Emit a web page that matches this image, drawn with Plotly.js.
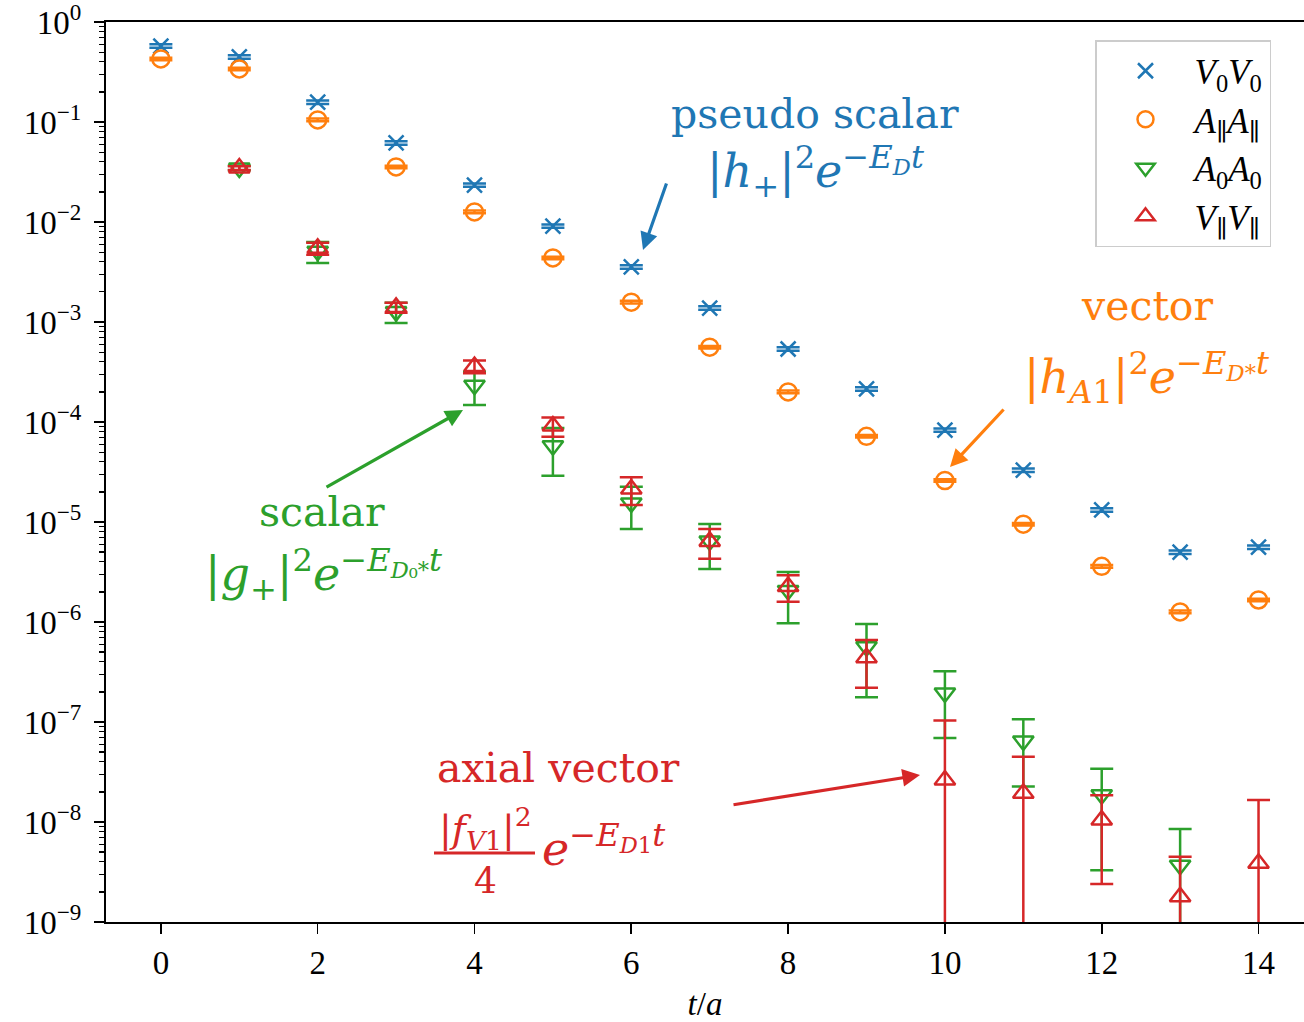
<!DOCTYPE html>
<html>
<head>
<meta charset="utf-8">
<script src="https://cdn.plot.ly/plotly-3.0.1.min.js"></script>
<style>html,body{margin:0;padding:0;background:#fff;}#chart{width:1304px;height:1022px;}</style>
</head>
<body>
<div id="chart"></div>
<script>
// ---- data ----
const tAll = [0,1,2,3,4,5,6,7,8,9,10,11,12,13,14];
const V0V0 = [0.575,0.447,0.158,0.0617,0.0234,0.0091,0.00355,0.00138,0.000537,0.000214,8.3e-5,3.3e-5,1.32e-5,5.0e-6,5.6e-6];
const V0V0_err = [0.023,0.018,0.0063,0.0025,0.0009,0.00036,0.00014,5.5e-5,2.1e-5,8.6e-6,3.3e-6,1.3e-6,5.3e-7,2.0e-7,2.2e-7];
const AparApar = [0.427,0.339,0.105,0.0355,0.0126,0.00437,0.00158,5.6e-4,2.0e-4,7.2e-5,2.6e-5,9.5e-6,3.6e-6,1.26e-6,1.66e-6];
const AparApar_err = [0.013,0.010,0.0032,0.0011,0.0004,0.00013,5e-5,1.7e-5,6e-6,2.2e-6,8e-7,3e-7,1.1e-7,4e-8,5e-8];
const tA0 = [1,2,3,4,5,6,7,8,9,10,11,12,13];
const A0A0 = [0.0347,5.1e-3,1.27e-3,2.33e-4,5.8e-5,1.55e-5,6.47e-6,2.07e-6,5.67e-7,1.95e-7,6.46e-8,1.87e-8,3.7e-9];
const A0A0_err = [0.0018,1.2e-3,2.9e-4,8.5e-5,2.9e-5,7e-6,3.08e-6,1.1e-6,3.9e-7,1.26e-7,4.2e-8,1.54e-8,4.8e-9];
const tVp = [1,2,3,4,5,6,7,8,9,10,11,12,13,14];
const VparVpar = [0.0347,5.45e-3,1.40e-3,3.59e-4,9.1e-5,2.14e-5,6.4e-6,2.26e-6,4.4e-7,2.63e-8,1.94e-8,1.045e-8,1.79e-9,3.86e-9];
const VparVpar_err = [0.0015,7.5e-4,1.6e-4,5.2e-5,2.0e-5,6.6e-6,2.1e-6,6.7e-7,2.2e-7,7.7e-8,2.56e-8,8.05e-9,2.7e-9,1.27e-8];
const xTicks = [0,2,4,6,8,10,12,14];
const yTickVals = [1e-9,1e-8,1e-7,1e-6,1e-5,1e-4,1e-3,1e-2,1e-1,1];
const yTickText = ['10<sup>−9</sup>','10<sup>−8</sup>','10<sup>−7</sup>','10<sup>−6</sup>','10<sup>−5</sup>','10<sup>−4</sup>','10<sup>−3</sup>','10<sup>−2</sup>','10<sup>−1</sup>','10<sup>0</sup>'];

const C = {blue:'#1f77b4', orange:'#ff7f0e', green:'#2ca02c', red:'#d62728'};
const SERIF = 'Liberation Serif, DejaVu Serif, serif';
const ANN = 'DejaVu Serif, serif';

function tr(x, y, err, name, color, symbol, size) {
  return {
    type:'scatter', mode:'markers', x:x, y:y, name:name,
    marker:{symbol:symbol, size:size, color:color, line:{color:color, width:2.5}},
    error_y:{type:'data', array:err, visible:true, color:color, thickness:2.5, width:11.5},
    hoverinfo:'x+y'
  };
}
const data = [
  tr(tAll, V0V0, V0V0_err, '<i>V</i><sub>0</sub><i>V</i><sub>0</sub>', C.blue, 'x-thin-open', 15),
  tr(tAll, AparApar, AparApar_err, '<i>A</i><sub>∥</sub><i>A</i><sub>∥</sub>', C.orange, 'circle-open', 17),
  tr(tA0, A0A0, A0A0_err, '<i>A</i><sub>0</sub><i>A</i><sub>0</sub>', C.green, 'triangle-down-open', 18),
  tr(tVp, VparVpar, VparVpar_err, '<i>V</i><sub>∥</sub><i>V</i><sub>∥</sub>', C.red, 'triangle-up-open', 18)
];

// layout helpers: pixel position -> paper fraction
const L=106, R=1304, T=22, B=922;
const px = v => (v-L)/(R-L);
const py = v => (B-v)/(B-T);
function txt(x, y, text, color, size, xanchor) {
  return {xref:'paper', yref:'paper', x:px(x), y:py(y), text:text, showarrow:false,
    xanchor:xanchor||'center', yanchor:'middle', font:{family:ANN, size:size, color:color}};
}
function arrow(hx, hy, tx, ty, color) {
  return {xref:'paper', yref:'paper', x:px(hx), y:py(hy), ax:tx-hx, ay:ty-hy, text:'',
    showarrow:true, arrowhead:2, arrowsize:1.1, arrowwidth:3.2, arrowcolor:color};
}

const annotations = [
  txt(815, 114, 'pseudo scalar', C.blue, 41),
  txt(815, 171, '|<i>h</i><sub>+</sub>|<sup>2</sup><i>e</i><sup>−<i>E</i><sub><i>D</i></sub><i>t</i></sup>', C.blue, 46),
  arrow(643, 250, 667, 182, C.blue),
  txt(1147, 306, 'vector', C.orange, 41),
  txt(1146, 377, '|<i>h</i><sub><i>A</i>1</sub>|<sup>2</sup><i>e</i><sup>−<i>E</i><sub><i>D</i>*</sub><i>t</i></sup>', C.orange, 46),
  arrow(950, 467, 1005, 408, C.orange),
  txt(322, 512, 'scalar', C.green, 41),
  txt(323, 574, '|<i>g</i><sub>+</sub>|<sup>2</sup><i>e</i><sup>−<i>E</i><sub><i>D</i>₀*</sub><i>t</i></sup>', C.green, 46),
  arrow(463, 410, 325, 488, C.green),
  txt(558, 768, 'axial vector', C.red, 41),
  txt(485, 828, '|<i>f</i><sub><i>V</i>1</sub>|<sup>2</sup>', C.red, 38),
  txt(485, 880, '4', C.red, 36),
  txt(540, 846, '<i>e</i><sup>−<i>E</i><sub><i>D</i>1</sub><i>t</i></sup>', C.red, 46, 'left'),
  arrow(920, 775, 732, 805, C.red)
];

const layout = {
  width:1304, height:1022,
  margin:{l:L, r:1304-R, t:T, b:1022-B, pad:0},
  paper_bgcolor:'#fff', plot_bgcolor:'#fff',
  showlegend:true,
  legend:{x:px(1095), y:py(40), xanchor:'left', yanchor:'top',
    bgcolor:'#fff', bordercolor:'#cccccc', borderwidth:1.5,
    font:{family:SERIF, size:35, color:'#000'}, itemwidth:88, tracegroupgap:0},
  xaxis:{range:[-0.7, 14.58], showgrid:false, zeroline:false,
    showline:true, linecolor:'#000', linewidth:2, mirror:true,
    ticks:'outside', ticklen:10, tickwidth:1.6, tickcolor:'#000',
    tickmode:'array', tickvals:xTicks, ticklabeloverflow:'allow',
    tickfont:{family:SERIF, size:33, color:'#000'},
    title:{text:'<i>t</i>/<i>a</i>', font:{family:SERIF, size:33, color:'#000'}, standoff:12}},
  yaxis:{type:'log', range:[-9, 0], showgrid:false, zeroline:false,
    showline:true, linecolor:'#000', linewidth:2,
    ticks:'outside', ticklen:10, tickwidth:1.6, tickcolor:'#000',
    tickmode:'array', tickvals:yTickVals, ticktext:yTickText, ticklabelstandoff:6,
    ticklabeloverflow:'allow',
    minor:{ticks:'outside', ticklen:5, tickwidth:1.2, tickcolor:'#000', dtick:'D1', tickmode:'linear'},
    tickfont:{family:SERIF, size:33, color:'#000'}},
  annotations:annotations,
  shapes:[{type:'line', xref:'paper', yref:'paper', x0:px(434), x1:px(535), y0:py(853), y1:py(853), line:{color:C.red, width:3}}]
};
Plotly.newPlot('chart', data, layout, {displayModeBar:false, staticPlot:true});
</script>
</body>
</html>
